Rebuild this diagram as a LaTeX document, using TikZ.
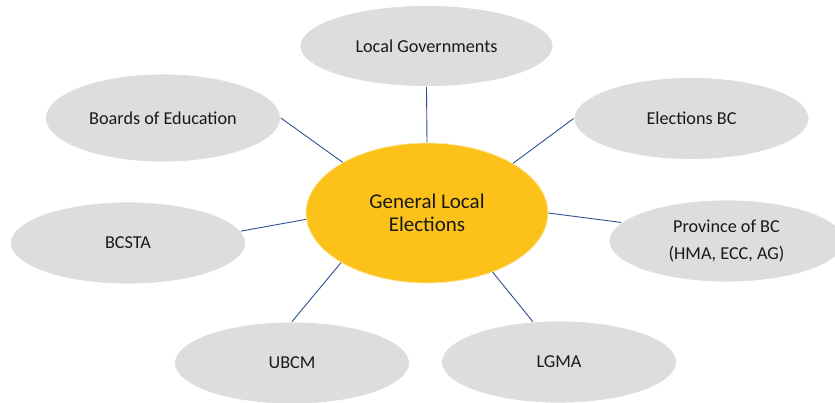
\documentclass[tikz,border=0pt]{standalone}
\usepackage{fontspec}
\setmainfont{Carlito}
\usetikzlibrary{shapes.geometric}
\definecolor{hubgold}{RGB}{252,194,25}
\definecolor{bubblegray}{RGB}{221,221,221}
\definecolor{linkblue}{RGB}{47,82,143}
\begin{document}
\begin{tikzpicture}[x=1pt,y=-1pt,
  outer/.style={ellipse, fill=bubblegray, draw=white, line width=0.8pt, inner sep=0pt,
    minimum width=235pt, minimum height=82pt, align=center, text=black!90,
    font=\fontsize{18.2}{26.3}\selectfont},
  hub/.style={ellipse, fill=hubgold, draw=hubgold!40!white, line width=0.8pt, inner sep=0pt,
    minimum width=242pt, minimum height=140pt, align=center, text=black!90,
    font=\fontsize{21}{23}\selectfont},
  link/.style={draw=linkblue, line width=0.9pt}]
\useasboundingbox (0,0) rectangle (835,402);
\clip (0,0) rectangle (835,402);
\node[hub] (gle) at (427,213) {General Local\\Elections};
\node[outer, minimum width=253pt, minimum height=81pt] (lg) at (426.5,46) {Local Governments};
\node[outer, minimum height=88pt] (boe) at (163,118) {Boards of Education};
\node[outer] (ebc) at (691.5,118.5) {Elections BC};
\node[outer] (bcsta) at (128,243) {BCSTA};
\node[outer] (prov) at (726.5,241) {Province of BC\\(HMA, ECC, AG)};
\node[outer] (ubcm) at (292,363) {UBCM};
\node[outer] (lgma) at (559,362) {LGMA};
\draw[link] (boe.east) -- (gle.149);
\draw[link] (lg.south) -- (gle.north);
\draw[link] (ebc.west) -- (gle.30.5);
\draw[link] (bcsta.6) -- (gle.183);
\draw[link] (prov.170) -- (gle.0.5);
\draw[link] (ubcm.north) -- (gle.210);
\draw[link] (lgma.123) -- (gle.318);
\end{tikzpicture}
\end{document}
